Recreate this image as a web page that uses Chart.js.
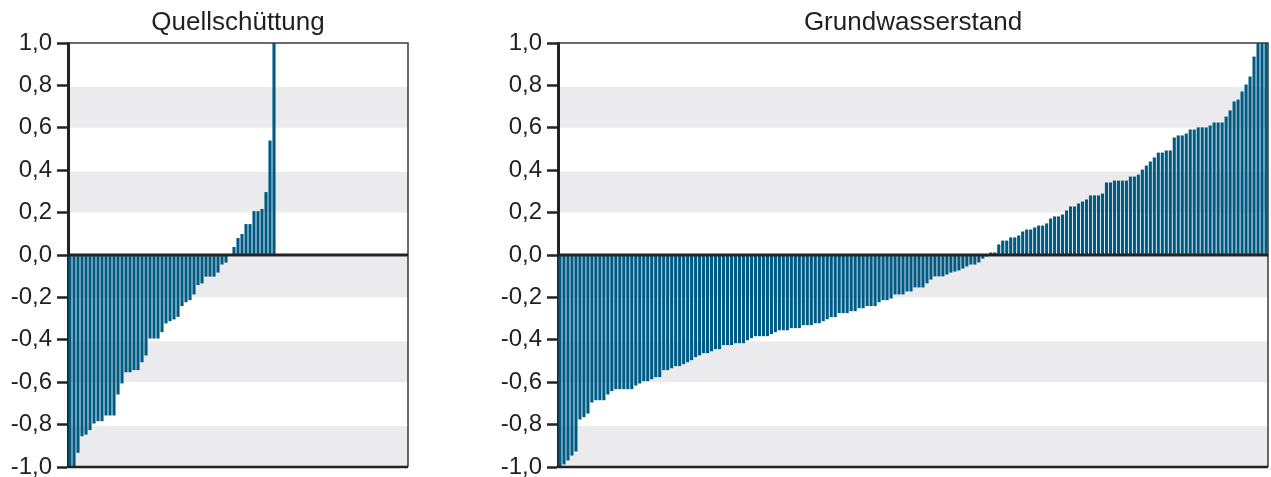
<!DOCTYPE html>
<html>
<head>
<meta charset="utf-8">
<script src="https://cdn.jsdelivr.net/npm/chart.js@4.4.1/dist/chart.umd.min.js"></script>
<style>
  html, body { margin: 0; padding: 0; background: #fff; overflow: hidden; width: 1271px; height: 477px; }
  canvas { position: absolute; top: 0; }
  #left { left: 0; }
  #right { left: 480px; }
</style>
</head>
<body>
<canvas id="left" width="420" height="500"></canvas>
<canvas id="right" width="791" height="500"></canvas>
<script>
// Quellschüttung: sorted values per station (85 slots, 52 filled)
const springSlots = 85;
const springValues = [
  -1.0, -1.0, -0.933, -0.855, -0.847, -0.826, -0.795, -0.784, -0.784, -0.757,
  -0.757, -0.757, -0.658, -0.606, -0.553, -0.553, -0.543, -0.543, -0.506, -0.474,
  -0.394, -0.394, -0.394, -0.364, -0.323, -0.312, -0.304, -0.292, -0.241, -0.223,
  -0.213, -0.186, -0.142, -0.134, -0.102, -0.102, -0.102, -0.083, -0.045, -0.036,
  0, 0.038, 0.08, 0.099, 0.146, 0.146, 0.207, 0.207, 0.217, 0.297,
  0.54, 1.0
];

// Grundwasserstand: sorted values per station (178)
const groundValues = [
  -1.0, -0.988, -0.969, -0.946, -0.927, -0.776, -0.765, -0.748, -0.696, -0.685,
  -0.685, -0.685, -0.658, -0.642, -0.633, -0.633, -0.633, -0.633, -0.633, -0.616,
  -0.606, -0.595, -0.595, -0.586, -0.576, -0.576, -0.543, -0.543, -0.534, -0.524,
  -0.524, -0.515, -0.506, -0.496, -0.482, -0.473, -0.463, -0.463, -0.454, -0.444,
  -0.444, -0.425, -0.425, -0.425, -0.416, -0.416, -0.416, -0.402, -0.392, -0.383,
  -0.383, -0.383, -0.383, -0.373, -0.364, -0.355, -0.355, -0.355, -0.345, -0.345,
  -0.345, -0.331, -0.331, -0.331, -0.322, -0.322, -0.312, -0.303, -0.293, -0.293,
  -0.274, -0.274, -0.274, -0.265, -0.265, -0.251, -0.251, -0.241, -0.241, -0.241,
  -0.223, -0.213, -0.213, -0.205, -0.186, -0.186, -0.186, -0.172, -0.172, -0.153,
  -0.153, -0.153, -0.134, -0.116, -0.101, -0.101, -0.101, -0.092, -0.083, -0.078,
  -0.073, -0.064, -0.054, -0.045, -0.045, -0.035, -0.017, -0.007, 0.012, 0.012,
  0.05, 0.068, 0.068, 0.083, 0.083, 0.092, 0.111, 0.12, 0.12, 0.13,
  0.139, 0.139, 0.149, 0.172, 0.182, 0.182, 0.191, 0.21, 0.229, 0.229,
  0.243, 0.252, 0.262, 0.281, 0.281, 0.281, 0.29, 0.342, 0.342, 0.351,
  0.351, 0.351, 0.351, 0.37, 0.37, 0.379, 0.403, 0.422, 0.441, 0.46,
  0.483, 0.483, 0.493, 0.493, 0.554, 0.564, 0.564, 0.573, 0.592, 0.592,
  0.602, 0.602, 0.602, 0.611, 0.625, 0.625, 0.625, 0.653, 0.682, 0.724,
  0.733, 0.771, 0.804, 0.842, 0.936, 1.0, 1.0, 1.0
];

// shaded bands of the y axis
const bandRanges = [[0.6, 0.8], [0.2, 0.4], [-0.2, 0], [-0.6, -0.4], [-1.0, -0.8]];

const fontFamily = "'Liberation Sans', Arial, Helvetica, sans-serif";
const textColor = '#231f20';
const barColor = '#005b84';

const framePlugin = {
  id: 'frame',
  beforeDraw(chart) {
    const { ctx, chartArea: a, scales: { y } } = chart;
    ctx.save();
    ctx.fillStyle = '#ebebed';
    bandRanges.forEach(([lo, hi]) => {
      const top = y.getPixelForValue(hi);
      const bottom = y.getPixelForValue(lo);
      ctx.fillRect(a.left, top + 1.5, a.right - a.left, bottom - top - 1.5);
    });
    ctx.restore();
  },
  afterDatasetsDraw(chart) {
    const { ctx, chartArea: a, scales: { y } } = chart;
    ctx.save();
    // top and right frame
    ctx.strokeStyle = '#3a3a3a';
    ctx.lineWidth = 1.5;
    ctx.beginPath();
    ctx.moveTo(a.left, a.top);
    ctx.lineTo(a.right, a.top);
    ctx.lineTo(a.right, a.bottom);
    ctx.stroke();
    // bottom line
    ctx.strokeStyle = '#222';
    ctx.lineWidth = 2.5;
    ctx.beginPath();
    ctx.moveTo(a.left, a.bottom);
    ctx.lineTo(a.right, a.bottom);
    ctx.stroke();
    // zero line
    const y0 = y.getPixelForValue(0);
    ctx.lineWidth = 3;
    ctx.beginPath();
    ctx.moveTo(a.left, y0);
    ctx.lineTo(a.right, y0);
    ctx.stroke();
    ctx.restore();
  }
};

function makeChart(id, title, slots, values, axisWidth, padRight) {
  const labels = Array.from({ length: slots }, (_, i) => i + 1);
  return new Chart(document.getElementById(id), {
    type: 'bar',
    data: {
      labels: labels,
      datasets: [{
        data: values,
        backgroundColor: barColor,
        borderWidth: 0,
        barPercentage: 0.78,
        categoryPercentage: 1.0
      }]
    },
    options: {
      responsive: false,
      animation: false,
      layout: { padding: { left: 0, right: padRight, top: 0, bottom: 33 } },
      scales: {
        x: { display: false, offset: true },
        y: {
          min: -1,
          max: 1,
          afterFit: (scale) => { scale.width = axisWidth; },
          ticks: {
            stepSize: 0.2,
            padding: 5,
            color: textColor,
            font: { family: fontFamily, size: 24 },
            callback: (v) => (Math.abs(v) < 1e-9 ? 0 : v).toFixed(1).replace('.', ',')
          },
          grid: {
            drawOnChartArea: false,
            drawTicks: true,
            tickLength: 11,
            tickColor: '#222',
            tickWidth: 2.5
          },
          border: { display: true, color: '#222', width: 3 }
        }
      },
      plugins: {
        legend: { display: false },
        tooltip: { enabled: false },
        title: {
          display: true,
          text: title,
          fullSize: false,
          color: textColor,
          font: { family: fontFamily, size: 26, weight: 'normal', lineHeight: 1.1 },
          padding: { top: 9, bottom: 5.4 }
        }
      }
    },
    plugins: [framePlugin]
  });
}

makeChart('left', 'Quellschüttung', springSlots, springValues, 68, 12);
makeChart('right', 'Grundwasserstand', groundValues.length, groundValues, 78, 3);
</script>
</body>
</html>
